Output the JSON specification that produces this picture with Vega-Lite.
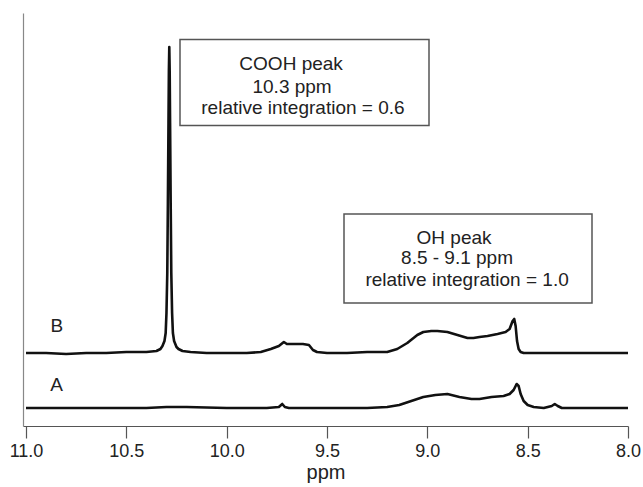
{
  "$schema": "https://vega.github.io/schema/vega-lite/v6.json",
  "width": 605,
  "height": 413,
  "autosize": {"type": "none"},
  "padding": {"left": 23, "top": 13, "right": 15, "bottom": 61},
  "config": {"view": {"stroke": null}, "font": "Liberation Sans"},
  "datasets": {
    "spectra": [
      {"trace": "B", "ppm": 11.0, "y": 73},
      {"trace": "B", "ppm": 10.9, "y": 73},
      {"trace": "B", "ppm": 10.8, "y": 72},
      {"trace": "B", "ppm": 10.7, "y": 73},
      {"trace": "B", "ppm": 10.6, "y": 73},
      {"trace": "B", "ppm": 10.5, "y": 74},
      {"trace": "B", "ppm": 10.45, "y": 74},
      {"trace": "B", "ppm": 10.4, "y": 74},
      {"trace": "B", "ppm": 10.35, "y": 75},
      {"trace": "B", "ppm": 10.33, "y": 77},
      {"trace": "B", "ppm": 10.32, "y": 80},
      {"trace": "B", "ppm": 10.31, "y": 85},
      {"trace": "B", "ppm": 10.304, "y": 93},
      {"trace": "B", "ppm": 10.3, "y": 113},
      {"trace": "B", "ppm": 10.296, "y": 153},
      {"trace": "B", "ppm": 10.293, "y": 223},
      {"trace": "B", "ppm": 10.29, "y": 303},
      {"trace": "B", "ppm": 10.288, "y": 355},
      {"trace": "B", "ppm": 10.286, "y": 379},
      {"trace": "B", "ppm": 10.284, "y": 355},
      {"trace": "B", "ppm": 10.282, "y": 303},
      {"trace": "B", "ppm": 10.279, "y": 223},
      {"trace": "B", "ppm": 10.276, "y": 153},
      {"trace": "B", "ppm": 10.272, "y": 113},
      {"trace": "B", "ppm": 10.268, "y": 93},
      {"trace": "B", "ppm": 10.262, "y": 85},
      {"trace": "B", "ppm": 10.25, "y": 79},
      {"trace": "B", "ppm": 10.24, "y": 77},
      {"trace": "B", "ppm": 10.22, "y": 75},
      {"trace": "B", "ppm": 10.18, "y": 74},
      {"trace": "B", "ppm": 10.1, "y": 73},
      {"trace": "B", "ppm": 10.0, "y": 73},
      {"trace": "B", "ppm": 9.9, "y": 73},
      {"trace": "B", "ppm": 9.83, "y": 74},
      {"trace": "B", "ppm": 9.78, "y": 77},
      {"trace": "B", "ppm": 9.74, "y": 80},
      {"trace": "B", "ppm": 9.715, "y": 84},
      {"trace": "B", "ppm": 9.7, "y": 82},
      {"trace": "B", "ppm": 9.66, "y": 82},
      {"trace": "B", "ppm": 9.62, "y": 82},
      {"trace": "B", "ppm": 9.59, "y": 81},
      {"trace": "B", "ppm": 9.57, "y": 76},
      {"trace": "B", "ppm": 9.55, "y": 74},
      {"trace": "B", "ppm": 9.5, "y": 73},
      {"trace": "B", "ppm": 9.4, "y": 73},
      {"trace": "B", "ppm": 9.3, "y": 74},
      {"trace": "B", "ppm": 9.2, "y": 74},
      {"trace": "B", "ppm": 9.15, "y": 77},
      {"trace": "B", "ppm": 9.1, "y": 83},
      {"trace": "B", "ppm": 9.05, "y": 91},
      {"trace": "B", "ppm": 9.02, "y": 94},
      {"trace": "B", "ppm": 8.98, "y": 95},
      {"trace": "B", "ppm": 8.95, "y": 95},
      {"trace": "B", "ppm": 8.9, "y": 94},
      {"trace": "B", "ppm": 8.85, "y": 91},
      {"trace": "B", "ppm": 8.8, "y": 88},
      {"trace": "B", "ppm": 8.77, "y": 88},
      {"trace": "B", "ppm": 8.74, "y": 89},
      {"trace": "B", "ppm": 8.7, "y": 90},
      {"trace": "B", "ppm": 8.65, "y": 92},
      {"trace": "B", "ppm": 8.61, "y": 94},
      {"trace": "B", "ppm": 8.59, "y": 97},
      {"trace": "B", "ppm": 8.575, "y": 105},
      {"trace": "B", "ppm": 8.567, "y": 107},
      {"trace": "B", "ppm": 8.56, "y": 100},
      {"trace": "B", "ppm": 8.553, "y": 85},
      {"trace": "B", "ppm": 8.545, "y": 77},
      {"trace": "B", "ppm": 8.535, "y": 74},
      {"trace": "B", "ppm": 8.52, "y": 73},
      {"trace": "B", "ppm": 8.45, "y": 73},
      {"trace": "B", "ppm": 8.35, "y": 73},
      {"trace": "B", "ppm": 8.25, "y": 73},
      {"trace": "B", "ppm": 8.15, "y": 73},
      {"trace": "B", "ppm": 8.0, "y": 73},
      {"trace": "A", "ppm": 11.0, "y": 18},
      {"trace": "A", "ppm": 10.8, "y": 18},
      {"trace": "A", "ppm": 10.6, "y": 18},
      {"trace": "A", "ppm": 10.4, "y": 18},
      {"trace": "A", "ppm": 10.3, "y": 19},
      {"trace": "A", "ppm": 10.2, "y": 19},
      {"trace": "A", "ppm": 10.0, "y": 18},
      {"trace": "A", "ppm": 9.8, "y": 18},
      {"trace": "A", "ppm": 9.74, "y": 19},
      {"trace": "A", "ppm": 9.723, "y": 22},
      {"trace": "A", "ppm": 9.71, "y": 19},
      {"trace": "A", "ppm": 9.69, "y": 18},
      {"trace": "A", "ppm": 9.5, "y": 18},
      {"trace": "A", "ppm": 9.3, "y": 18},
      {"trace": "A", "ppm": 9.2, "y": 19},
      {"trace": "A", "ppm": 9.14, "y": 21},
      {"trace": "A", "ppm": 9.08, "y": 25},
      {"trace": "A", "ppm": 9.02, "y": 29},
      {"trace": "A", "ppm": 8.96, "y": 31},
      {"trace": "A", "ppm": 8.9, "y": 32},
      {"trace": "A", "ppm": 8.84, "y": 29},
      {"trace": "A", "ppm": 8.78, "y": 27},
      {"trace": "A", "ppm": 8.74, "y": 27},
      {"trace": "A", "ppm": 8.68, "y": 29},
      {"trace": "A", "ppm": 8.62, "y": 30},
      {"trace": "A", "ppm": 8.59, "y": 32},
      {"trace": "A", "ppm": 8.57, "y": 36},
      {"trace": "A", "ppm": 8.555, "y": 42},
      {"trace": "A", "ppm": 8.545, "y": 40},
      {"trace": "A", "ppm": 8.535, "y": 32},
      {"trace": "A", "ppm": 8.52, "y": 25},
      {"trace": "A", "ppm": 8.5, "y": 21},
      {"trace": "A", "ppm": 8.47, "y": 19},
      {"trace": "A", "ppm": 8.42, "y": 18},
      {"trace": "A", "ppm": 8.38, "y": 20},
      {"trace": "A", "ppm": 8.365, "y": 22},
      {"trace": "A", "ppm": 8.35, "y": 20},
      {"trace": "A", "ppm": 8.33, "y": 18},
      {"trace": "A", "ppm": 8.2, "y": 18},
      {"trace": "A", "ppm": 8.0, "y": 18}
    ],
    "boxes": [
      {"x": 10.2326, "x2": 8.9917, "y": 386.5, "y2": 300.4},
      {"x": 9.4153, "x2": 8.1794, "y": 212, "y2": 123}
    ],
    "labels": [
      {"x": 9.679, "y": 356, "label": "COOH peak"},
      {"x": 9.674, "y": 333.5, "label": "10.3 ppm"},
      {"x": 9.62, "y": 312, "label": "relative integration = 0.6"},
      {"x": 8.867, "y": 182, "label": "OH peak"},
      {"x": 8.852, "y": 161.7, "label": "8.5 - 9.1 ppm"},
      {"x": 8.802, "y": 140.3, "label": "relative integration = 1.0"},
      {"x": 10.846, "y": 93.7, "label": "B"},
      {"x": 10.848, "y": 35.3, "label": "A"}
    ]
  },
  "layer": [
    {
      "data": {"name": "boxes"},
      "mark": {"type": "rect", "fill": "white", "stroke": "#555555", "strokeWidth": 1.5},
      "encoding": {
        "x": {"field": "x", "type": "quantitative", "scale": {"domain": [8.0, 11.015], "reverse": true, "nice": false, "zero": false}},
        "x2": {"field": "x2"},
        "y": {"field": "y", "type": "quantitative", "scale": {"domain": [0, 413], "nice": false, "zero": false}},
        "y2": {"field": "y2"}
      }
    },
    {
      "data": {"name": "spectra"},
      "mark": {"type": "line", "color": "#111111", "strokeWidth": 2.6, "strokeJoin": "round"},
      "encoding": {
        "x": {
          "field": "ppm", "type": "quantitative",
          "scale": {"domain": [8.0, 11.015], "reverse": true, "nice": false, "zero": false},
          "axis": {
            "values": [11, 10.5, 10, 9.5, 9, 8.5, 8],
            "format": ".1f",
            "title": "ppm",
            "grid": false,
            "tickSize": 12,
            "tickColor": "#555555",
            "domainColor": "#555555",
            "domainWidth": 1.2,
            "tickWidth": 1.2,
            "labelFontSize": 18,
            "labelColor": "#222222",
            "labelPadding": 4,
            "labelFlush": false,
            "labelOverlap": false,
            "titleFontSize": 20,
            "titleFontWeight": "normal",
            "titleColor": "#222222",
            "titlePadding": 2
          }
        },
        "y": {
          "field": "y", "type": "quantitative",
          "scale": {"domain": [0, 413], "nice": false, "zero": false},
          "axis": {"title": null, "labels": false, "ticks": false, "grid": false, "domainColor": "#888888", "domainWidth": 1.2}
        },
        "detail": {"field": "trace"}
      }
    },
    {
      "data": {"name": "labels"},
      "mark": {"type": "text", "align": "center", "baseline": "alphabetic", "fontSize": 19, "color": "#222222"},
      "encoding": {
        "x": {"field": "x", "type": "quantitative"},
        "y": {"field": "y", "type": "quantitative"},
        "text": {"field": "label"}
      }
    }
  ]
}
